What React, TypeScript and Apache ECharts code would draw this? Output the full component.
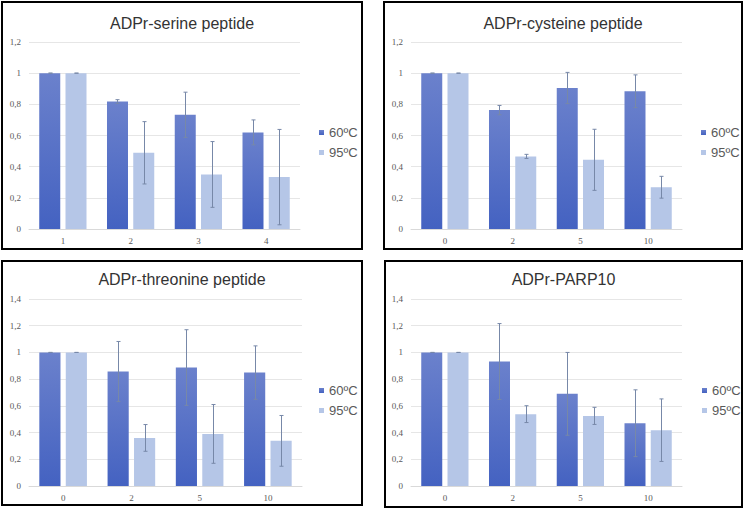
import React, { useEffect, useRef } from "react";
import * as echarts from "echarts";

// ---- data ----
const serineTitle = "ADPr-serine peptide";
const serineCats = ["1", "2", "3", "4"];
const serine60 = [1, 0.818, 0.733, 0.62];
const serine60Err = [0, 0.012, 0.145, 0.08];
const serine95 = [1, 0.489, 0.35, 0.333];
const serine95Err = [0, 0.2, 0.211, 0.306];

const cysteineTitle = "ADPr-cysteine peptide";
const cysteineCats = ["0", "2", "5", "10"];
const cysteine60 = [1, 0.763, 0.905, 0.884];
const cysteine60Err = [0, 0.03, 0.1, 0.105];
const cysteine95 = [1, 0.466, 0.444, 0.268];
const cysteine95Err = [0, 0.013, 0.196, 0.07];

const threonineTitle = "ADPr-threonine peptide";
const threonineCats = ["0", "2", "5", "10"];
const threonine60 = [1, 0.857, 0.887, 0.849];
const threonine60Err = [0, 0.225, 0.283, 0.2];
const threonine95 = [1, 0.36, 0.39, 0.338];
const threonine95Err = [0, 0.1, 0.22, 0.19];

const parpTitle = "ADPr-PARP10";
const parpCats = ["0", "2", "5", "10"];
const parp60 = [1, 0.932, 0.69, 0.47];
const parp60Err = [0, 0.284, 0.31, 0.25];
const parp95 = [1, 0.538, 0.525, 0.418];
const parp95Err = [0, 0.063, 0.064, 0.234];

const seriesNames = ["60ºC", "95ºC"];
const yMaxTop = 1.2;
const yMaxBottom = 1.4;

const BW = 0.31;
const GAP = 0.25;

type PanelCfg = {
  title: string;
  cats: string[];
  v60: number[];
  e60: number[];
  v95: number[];
  e95: number[];
  yMax: number;
  box: { left: number; top: number; width: number; height: number };
  grid: { left: number; top: number; width: number; height: number };
  titleTop: number;
  legend: { left: number; top: number };
};

function errSeries(vals: number[], errs: number[], side: number) {
  return {
    type: "custom",
    z: 5,
    silent: true,
    data: vals.map((v, i) => [i, v - errs[i], v + errs[i]]),
    encode: { x: 0, y: [1, 2] },
    renderItem: (params: any, api: any) => {
      const x = api.value(0);
      const lo = api.coord([x, api.value(1)]);
      const hi = api.coord([x, api.value(2)]);
      const band = api.size([1, 0])[0];
      const bw = band * BW;
      const off = ((bw + bw * GAP) / 2) * side;
      const cx = Math.round(lo[0] + off) + 0.5;
      const style = { stroke: "#7788a8", lineWidth: 1 };
      return {
        type: "group",
        children: [
          { type: "line", shape: { x1: cx, y1: hi[1], x2: cx, y2: lo[1] }, style },
          { type: "line", shape: { x1: cx - 2, y1: hi[1], x2: cx + 2, y2: hi[1] }, style },
          { type: "line", shape: { x1: cx - 2, y1: lo[1], x2: cx + 2, y2: lo[1] }, style },
        ],
      };
    },
  };
}

const fmt = (v: number) => String(+v.toFixed(1)).replace(".", ",");

function Panel({ cfg }: { cfg: PanelCfg }) {
  const ref = useRef<HTMLDivElement>(null);
  useEffect(() => {
    if (!ref.current) return;
    const chart = echarts.init(ref.current, undefined, { renderer: "svg" });
    chart.setOption({
      animation: false,
      title: {
        text: cfg.title,
        left: "center",
        top: cfg.titleTop,
        textStyle: {
          fontFamily: "Liberation Sans",
          fontSize: 16,
          fontWeight: "normal",
          color: "#333333",
        },
      },
      legend: {
        orient: "vertical",
        left: cfg.legend.left,
        top: cfg.legend.top,
        itemWidth: 5,
        itemHeight: 5,
        itemGap: 7,
        icon: "rect",
        data: seriesNames,
        textStyle: { fontFamily: "Liberation Sans", fontSize: 13, color: "#595959" },
      },
      grid: { ...cfg.grid },
      xAxis: {
        type: "category",
        data: cfg.cats,
        axisLine: { lineStyle: { color: "#d9d9d9" } },
        axisTick: { show: false },
        axisLabel: { fontFamily: "Liberation Serif", fontSize: 9, color: "#595959", margin: 7 },
      },
      yAxis: {
        type: "value",
        min: 0,
        max: cfg.yMax,
        interval: 0.2,
        axisLine: { show: false },
        axisTick: { show: false },
        splitLine: { lineStyle: { color: "#e6e6e6" } },
        axisLabel: {
          fontFamily: "Liberation Serif",
          fontSize: 9,
          color: "#595959",
          margin: 8,
          formatter: fmt,
        },
      },
      series: [
        {
          name: seriesNames[0],
          type: "bar",
          barWidth: BW * 100 + "%",
          barGap: GAP * 100 + "%",
          data: cfg.v60,
          itemStyle: {
            color: new echarts.graphic.LinearGradient(0, 0, 0, 1, [
              { offset: 0, color: "#6b81cc" },
              { offset: 1, color: "#4462c1" },
            ]),
          },
        },
        {
          name: seriesNames[1],
          type: "bar",
          barWidth: BW * 100 + "%",
          barGap: GAP * 100 + "%",
          data: cfg.v95,
          itemStyle: { color: "#b5c6e7" },
        },
        errSeries(cfg.v60, cfg.e60, -1),
        errSeries(cfg.v95, cfg.e95, 1),
      ],
    });
    return () => chart.dispose();
  }, [cfg]);
  const b = cfg.box;
  return (
    <div
      style={{
        position: "absolute",
        left: b.left,
        top: b.top,
        width: b.width,
        height: b.height,
        border: "2px solid #000",
        boxSizing: "border-box",
        background: "#fff",
      }}
    >
      <div ref={ref} style={{ width: b.width - 4, height: b.height - 4 }} />
    </div>
  );
}

const panels: PanelCfg[] = [
  {
    title: serineTitle,
    cats: serineCats,
    v60: serine60,
    e60: serine60Err,
    v95: serine95,
    e95: serine95Err,
    yMax: yMaxTop,
    box: { left: 1, top: 1, width: 362, height: 249 },
    grid: { left: 26, top: 39, width: 271, height: 187 },
    titleTop: 7,
    legend: { left: 311, top: 118 },
  },
  {
    title: cysteineTitle,
    cats: cysteineCats,
    v60: cysteine60,
    e60: cysteine60Err,
    v95: cysteine95,
    e95: cysteine95Err,
    yMax: yMaxTop,
    box: { left: 383, top: 1, width: 360, height: 249 },
    grid: { left: 26, top: 39, width: 271, height: 187 },
    titleTop: 7,
    legend: { left: 311, top: 118 },
  },
  {
    title: threonineTitle,
    cats: threonineCats,
    v60: threonine60,
    e60: threonine60Err,
    v95: threonine95,
    e95: threonine95Err,
    yMax: yMaxBottom,
    box: { left: 1, top: 260, width: 362, height: 246 },
    grid: { left: 26, top: 37, width: 273, height: 187 },
    titleTop: 4,
    legend: { left: 311, top: 117 },
  },
  {
    title: parpTitle,
    cats: parpCats,
    v60: parp60,
    e60: parp60Err,
    v95: parp95,
    e95: parp95Err,
    yMax: yMaxBottom,
    box: { left: 384, top: 260, width: 359, height: 248 },
    grid: { left: 25, top: 37, width: 271, height: 187 },
    titleTop: 4,
    legend: { left: 311, top: 117 },
  },
];

export default function App() {
  return (
    <div
      style={{
        position: "fixed",
        left: 0,
        top: 0,
        width: 746,
        height: 511,
        background: "#fff",
        overflow: "hidden",
      }}
    >
      {panels.map((p, i) => (
        <Panel key={i} cfg={p} />
      ))}
    </div>
  );
}
